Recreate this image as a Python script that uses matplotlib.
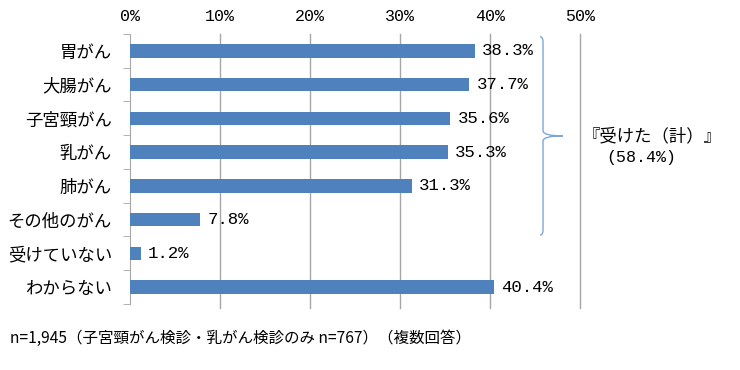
import matplotlib
matplotlib.use('Agg')
import matplotlib.pyplot as plt
from matplotlib.path import Path
from matplotlib.patches import PathPatch

plt.rcParams['font.family'] = ['Noto Sans CJK JP', 'DejaVu Sans']

categories = ['胃がん', '大腸がん', '子宮頸がん', '乳がん', '肺がん', 'その他のがん', '受けていない', 'わからない']
values = [38.3, 37.7, 35.6, 35.3, 31.3, 7.8, 1.2, 40.4]
xticks = [0, 10, 20, 30, 40, 50]
total_label = '『受けた（計）』'
total_value = '(58.4%)'
note = 'n=1,945（子宮頸がん検診・乳がん検診のみ n=767）（複数回答）'

bar_color = '#4F81BD'
grid_color = '#A6A6A6'
mono = ['Liberation Mono', 'DejaVu Sans Mono']

fig = plt.figure(figsize=(7.4, 3.7), dpi=100)
ax = fig.add_axes([0.1757, 0.1676, 0.6081, 0.7405])

ypos = list(range(len(categories)))
ax.barh(ypos, values, height=0.4, color=bar_color, zorder=3)

ax.set_xlim(0, 50)
ax.set_ylim(7.62, -0.5)

# gridlines (drawn by hand so the 50% line is not clipped)
for t in xticks[1:]:
    ax.axvline(t, color=grid_color, lw=1, zorder=0, clip_on=False)

for s in ['top', 'right', 'bottom']:
    ax.spines[s].set_visible(False)
ax.spines['left'].set_color(grid_color)
ax.spines['left'].set_bounds(-0.5, 7.5)

ax.xaxis.tick_top()
ax.set_xticks(xticks)
ax.set_xticklabels([f'{t}%' for t in xticks], fontsize=12, family=mono)
ax.tick_params(axis='x', length=0, pad=7)

ax.set_yticks(ypos)
ax.set_yticklabels(categories, fontsize=12.5)
ax.set_yticks([i - 0.5 for i in range(len(categories) + 1)], minor=True)
ax.tick_params(axis='y', which='major', length=0, pad=13)
ax.tick_params(axis='y', which='minor', length=5, color=grid_color)

for i, v in enumerate(values):
    ax.text(v + 0.8, i, f'{v}%', va='center', ha='left', fontsize=12.5, family=mono, zorder=4)

# brace grouping the first six categories
verts = [(45.56, -0.42),
         (45.89, -0.42), (45.89, -0.27),
         (45.89, 2.37),
         (45.89, 2.52), (48.1, 2.52),
         (45.89, 2.52), (45.89, 2.67),
         (45.89, 5.31),
         (45.89, 5.46), (45.56, 5.46)]
codes = [Path.MOVETO,
         Path.CURVE3, Path.CURVE3,
         Path.LINETO,
         Path.CURVE3, Path.CURVE3,
         Path.CURVE3, Path.CURVE3,
         Path.LINETO,
         Path.CURVE3, Path.CURVE3]
ax.add_patch(PathPatch(Path(verts, codes), fill=False, edgecolor='#7FA7D8', lw=1, clip_on=False))

ax.text(50.3, 2.52, total_label, va='center', ha='left', fontsize=12.5, clip_on=False)
ax.text(52.9, 3.17, total_value, va='center', ha='left', fontsize=12, family=mono, clip_on=False)

fig.text(0.013, 0.0865, note, va='center', ha='left', fontsize=11.2)

fig.savefig('out.png', dpi=100)
